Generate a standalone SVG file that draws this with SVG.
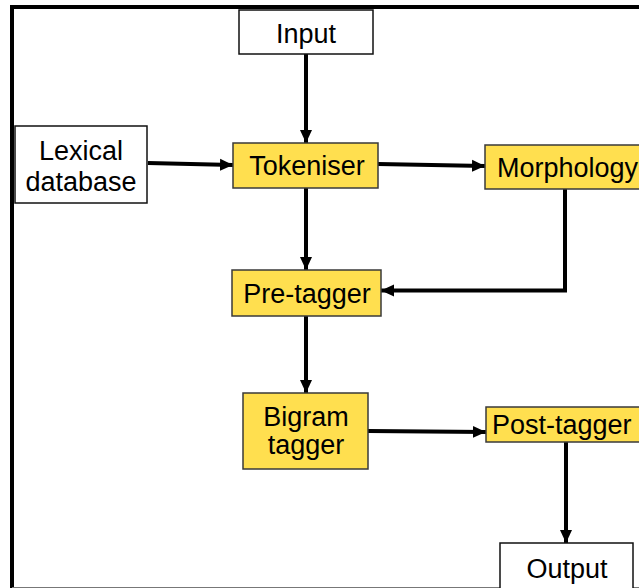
<svg xmlns="http://www.w3.org/2000/svg" width="639" height="588" viewBox="0 0 639 588">
<style>
.y{fill:#FFDF4F;stroke:#3a3a3a;stroke-width:1.5}
.w{fill:#fff;stroke:#111;stroke-width:1.5}
text{font-family:"Liberation Sans",Arial,sans-serif;font-size:27px;fill:#000;text-anchor:middle}
.c{fill:none;stroke:#000;stroke-width:4}
</style>
<defs>
<marker id="ah" markerUnits="userSpaceOnUse" markerWidth="14" markerHeight="14" viewBox="0 0 14 14" refX="13" refY="7" orient="auto">
<path d="M0,1 L13,7 L0,13 Z" fill="#000"/>
</marker>
</defs>
<rect width="639" height="588" fill="#fff"/>
<g id="frame">
<path d="M12,588 V7 H645" fill="none" stroke="#000" stroke-width="4"/>
<line x1="12" y1="587.5" x2="639" y2="587.5" stroke="#777" stroke-width="1"/>
</g>
<g id="connectors">
<line class="c" x1="306" y1="54" x2="306" y2="143" marker-end="url(#ah)"/>
<line class="c" x1="148" y1="163" x2="233" y2="165" marker-end="url(#ah)"/>
<line class="c" x1="378" y1="164" x2="485" y2="166" marker-end="url(#ah)"/>
<line class="c" x1="306" y1="188" x2="306" y2="270" marker-end="url(#ah)"/>
<path class="c" d="M565,189 V290.5 H381" marker-end="url(#ah)"/>
<line class="c" x1="306" y1="316" x2="306" y2="393" marker-end="url(#ah)"/>
<line class="c" x1="368" y1="431" x2="486" y2="432" marker-end="url(#ah)"/>
<line class="c" x1="566" y1="442" x2="566" y2="543" marker-end="url(#ah)"/>
</g>
<g id="input"><rect class="w" x="239" y="10" width="134" height="44"/><text x="306" y="43">Input</text></g>
<g id="lexical"><rect class="w" x="15" y="126" width="132" height="77"/><text x="81" y="160">Lexical</text><text x="81" y="191">database</text></g>
<g id="tokeniser"><rect class="y" x="233" y="143" width="145" height="45"/><text x="307" y="175">Tokeniser</text></g>
<g id="morphology"><rect class="y" x="485" y="145" width="164" height="44"/><text x="497" y="177" style="text-anchor:start">Morphology</text></g>
<g id="pretagger"><rect class="y" x="232" y="270" width="149" height="46"/><text x="307" y="303">Pre-tagger</text></g>
<g id="bigram"><rect class="y" x="243" y="393" width="125" height="76"/><text x="306" y="426">Bigram</text><text x="306" y="454">tagger</text></g>
<g id="posttagger"><rect class="y" x="486" y="407" width="164" height="35"/><text x="492" y="434" style="text-anchor:start">Post-tagger</text></g>
<g id="output"><rect class="w" x="500" y="543" width="133" height="50"/><text x="567" y="578">Output</text></g>
</svg>
